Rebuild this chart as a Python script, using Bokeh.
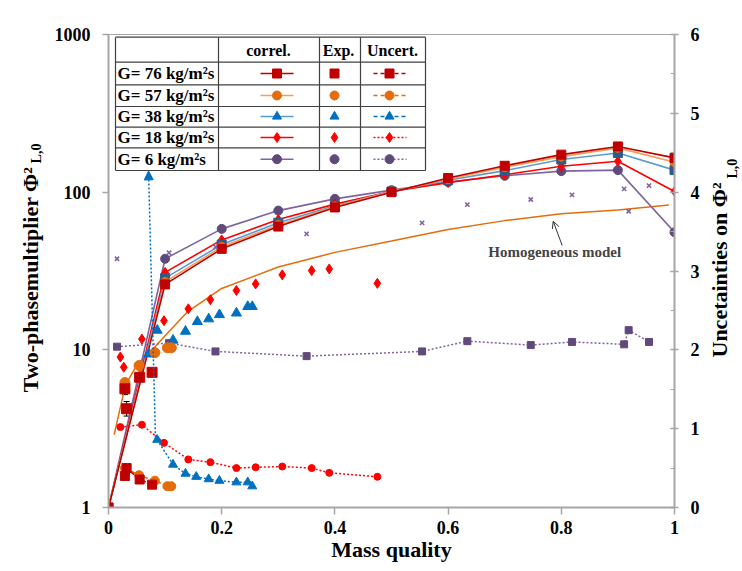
import math
from bokeh.plotting import figure
from bokeh.models import (Range1d, LinearAxis, LinearScale, FixedTicker, SingleIntervalTicker,
                          NumeralTickFormatter, CustomJSTickFormatter, Label, Arrow, NormalHead,
                          OpenHead, Whisker, ColumnDataSource, TeeHead)
from bokeh.core.properties import value
from bokeh.embed import file_html
from bokeh.resources import INLINE

FONT = "Liberation Serif"

# ---------------- data ----------------
x_corr = [0, 0.1, 0.2, 0.3, 0.4, 0.5, 0.6, 0.7, 0.8, 0.9, 1.0]
corr_g76 = [1, 26.0, 43.7, 60.5, 80, 100, 123, 147, 173, 195, 165]
corr_g57 = [1, 27.0, 45.0, 62.0, 81, 101, 121, 144, 168, 191, 155]
corr_g38 = [1, 28.5, 46.5, 64.0, 82, 101, 119, 137, 161, 177, 138]
corr_g18 = [1, 31.0, 49.8, 67.0, 84, 101, 115, 129, 146, 157, 101]
corr_g6 = [1, 37.8, 58.5, 76.4, 90.7, 103, 116, 127, 136, 138, 55.7]

x_homog = [0.01, 0.03, 0.05, 0.075, 0.1, 0.14, 0.2, 0.3, 0.4, 0.5, 0.6, 0.7, 0.8, 0.9, 0.99]
homog = [2.9, 6.0, 8.0, 9.8, 12.3, 17.5, 24.5, 33.5, 41.5, 49.0, 58.0, 66.0, 73.0, 77.0, 83.0]

x_exp76 = [0.029, 0.032, 0.055, 0.077]
exp76 = [5.66, 4.23, 6.7, 7.2]
unc76 = [0.40, 0.50, 0.355, 0.29]
err76_low = [5.2, 3.8]
err76_high = [5.8, 4.7]

x_exp57 = [0.029, 0.054, 0.082, 0.104, 0.111]
exp57 = [6.2, 7.95, 9.6, 10.3, 10.3]
unc57 = [0.50, 0.41, 0.34, 0.27, 0.27]

x_exp38 = [0.071, 0.086, 0.114, 0.136, 0.157, 0.177, 0.196, 0.226, 0.246, 0.254]
exp38 = [9.4, 13.3, 11.5, 13.1, 15.1, 15.7, 16.7, 17.1, 18.8, 18.8]
x_unc38 = [0.086, 0.114, 0.136, 0.155, 0.177, 0.196, 0.226, 0.246, 0.254]
unc38 = [0.86, 0.545, 0.43, 0.39, 0.36, 0.34, 0.32, 0.32, 0.27]

x_exp18 = [0.021, 0.027, 0.059, 0.098, 0.141, 0.18, 0.226, 0.26, 0.307, 0.359, 0.39, 0.475]
exp18 = [9.0, 7.76, 11.7, 15.3, 18.2, 20.8, 23.8, 26.2, 29.9, 31.8, 32.6, 26.4]
x_unc18 = [0.021, 0.059, 0.098, 0.141, 0.18, 0.226, 0.26, 0.307, 0.359, 0.39, 0.475]
unc18 = [1.02, 1.05, 0.82, 0.61, 0.575, 0.50, 0.51, 0.52, 0.50, 0.44, 0.39]

x_exp6 = [0.015, 0.107, 0.189, 0.35, 0.554, 0.634, 0.746, 0.819, 0.911, 0.919, 0.955]
exp6 = [37.8, 41.3, 45.0, 54.4, 63.9, 83.4, 89.8, 96.2, 105, 75.7, 110]
unc6 = [2.04, 2.085, 1.98, 1.92, 1.98, 2.11, 2.06, 2.10, 2.07, 2.25, 2.10]

x_ticks = [0, 0.2, 0.4, 0.6, 0.8, 1.0]
y_ticks = [1, 10, 100, 1000]

legend_labels = ["G= 76 kg/m\u00b2s", "G= 57 kg/m\u00b2s", "G= 38 kg/m\u00b2s",
                 "G= 18 kg/m\u00b2s", "G= 6 kg/m\u00b2s"]
legend_headers = ["correl.", "Exp.", "Uncert."]
left_title = "Two-phasemultiplier \u03a6\u00b2"
right_title = "Uncetainties on \u03a6\u00b2"
title_sub = "L,0"

# ---------------- styles ----------------
C76 = "#C00000"
C57 = "#E46C0A"
C57L = "#F59D56"
C38 = "#0070C0"
C38L = "#5B9BD5"
C38S = "#2E5B8A"
C18 = "#FF0000"
C6 = "#604A7B"
C6L = "#8064A2"
AXC = "#A6A6A6"

p = figure(frame_width=566, frame_height=473, x_range=Range1d(0, 1), y_range=Range1d(1, 1000),
           y_axis_type="log", output_backend="svg", toolbar_location=None,
           min_border_left=108, min_border_right=68, min_border_top=34, min_border_bottom=64)
p.extra_y_ranges = {"unc": Range1d(0, 6), "ly": Range1d(473, 0)}
p.extra_x_ranges = {"lx": Range1d(0, 566)}
p.extra_y_scales = {"unc": LinearScale(), "ly": LinearScale()}
p.extra_x_scales = {"lx": LinearScale()}

p.xgrid.visible = False
p.ygrid.visible = False
p.outline_line_color = AXC
p.outline_line_width = 1
p.background_fill_color = "white"
p.border_fill_color = "white"

def style_axis(ax, size="18px"):
    ax.axis_line_color = AXC
    ax.axis_line_width = 2
    ax.major_tick_line_color = AXC
    ax.major_tick_line_width = 1.5
    ax.minor_tick_line_color = AXC
    ax.major_label_text_font = FONT
    ax.major_label_text_font_style = "bold"
    ax.major_label_text_font_size = size
    ax.major_label_text_color = "black"
    ax.axis_label_text_font = FONT
    ax.axis_label_text_font_style = "bold"
    ax.axis_label_text_font_size = "22px"
    ax.axis_label_text_color = "black"

style_axis(p.xaxis[0])
p.xaxis.ticker = FixedTicker(ticks=x_ticks, minor_ticks=[])
p.xaxis.formatter = NumeralTickFormatter(format="0.[0]")
p.xaxis.major_tick_in = 0
p.xaxis.major_tick_out = 7
p.xaxis.major_label_standoff = 6
p.xaxis.axis_label = "Mass quality"
p.xaxis.axis_label_standoff = 0

style_axis(p.yaxis[0])
p.yaxis.ticker = FixedTicker(ticks=y_ticks, minor_ticks=[])
p.yaxis.formatter = NumeralTickFormatter(format="0")
p.yaxis.major_tick_in = 0
p.yaxis.major_tick_out = 6
p.yaxis.major_label_standoff = 12

rax = LinearAxis(y_range_name="unc", ticker=SingleIntervalTicker(interval=1, num_minor_ticks=2),
                 formatter=NumeralTickFormatter(format="0"))
style_axis(rax)
rax.major_tick_in = 4
rax.major_tick_out = 4
rax.minor_tick_in = 4
rax.minor_tick_out = 0
rax.major_label_standoff = 12
p.add_layout(rax, "right")

# axis titles drawn as single-tick label axes (allows the L,0 subscript)
def title_axis(pos, text, size, orient, standoff):
    ax = LinearAxis(y_range_name="ly", ticker=FixedTicker(ticks=[pos], minor_ticks=[]),
                    formatter=CustomJSTickFormatter(code="return %r;" % text),
                    major_label_orientation=orient)
    style_axis(ax, size)
    ax.axis_line_color = None
    ax.major_tick_line_color = None
    ax.minor_tick_line_color = None
    ax.major_tick_in = 0
    ax.major_tick_out = 0
    ax.minor_tick_in = 0
    ax.minor_tick_out = 0
    ax.major_label_standoff = standoff
    return ax

p.add_layout(title_axis(119, title_sub, "14px", "vertical", 8), "left")
p.add_layout(title_axis(245, left_title, "22px", "vertical", -17), "left")
p.add_layout(title_axis(323, right_title, "22px", math.pi / 2, 17), "right")
p.add_layout(title_axis(144, title_sub, "14px", math.pi / 2, -15), "right")

# ---------------- homogeneous model ----------------
p.line(x_homog, homog, line_color=C57, line_width=1.5)

# ---------------- correlations ----------------
corr = [(corr_g6, C6L, C6, "circle"), (corr_g18, C18, C18, "diamond"),
        (corr_g38, C38L, C38S, "square"), (corr_g57, C57L, C57, "circle"),
        (corr_g76, C76, C76, "square")]
for ys, lc, mc, mk in corr:
    p.line(x_corr, ys, line_color=lc, line_width=1.6)
    p.scatter(x_corr, ys, marker=mk, size=9 if mk != "diamond" else 10,
              fill_color=mc, line_color=mc)

# ---------------- uncertainties (right axis) ----------------
p.line(x_exp6, unc6, y_range_name="unc", line_color=C6L, line_width=1.5, line_dash="2 2")
p.scatter(x_exp6, unc6, y_range_name="unc", marker="square", size=7, fill_color=C6, line_color=C6)

p.line(x_unc18, unc18, y_range_name="unc", line_color=C18, line_width=1.5, line_dash="2 2")
p.scatter(x_unc18, unc18, y_range_name="unc", marker="circle", size=7, fill_color=C18, line_color=C18)

p.line(x_unc38, unc38, y_range_name="unc", line_color=C38, line_width=1.5, line_dash="2 2")
p.scatter(x_unc38, unc38, y_range_name="unc", marker="triangle", size=9, fill_color=C38, line_color=C38)

p.line(x_exp57, unc57, y_range_name="unc", line_color=C57, line_width=1.5, line_dash="4 3")
p.scatter(x_exp57, unc57, y_range_name="unc", marker="circle", size=9, fill_color=C57, line_color=C57)

p.line(sorted(x_exp76), [u for _, u in sorted(zip(x_exp76, unc76))], y_range_name="unc",
       line_color=C76, line_width=1.5, line_dash="4 3")
p.scatter(x_exp76, unc76, y_range_name="unc", marker="square", size=9, fill_color=C76, line_color=C76)

# ---------------- experiments (left axis) ----------------
p.scatter(x_exp6, exp6, marker="x", size=6, line_color=C6L, line_width=1.6)
p.scatter(x_exp18, exp18, marker="diamond", size=10, fill_color=C18, line_color=C18)
p.scatter(x_exp38, exp38, marker="triangle", size=10, fill_color=C38, line_color=C38)
p.scatter(x_exp57, exp57, marker="circle", size=10, fill_color=C57, line_color=C57)
p.scatter(x_exp76, exp76, marker="square", size=10, fill_color=C76, line_color=C76)

err_src = ColumnDataSource(dict(base=x_exp76[:2], lower=err76_low, upper=err76_high))
p.add_layout(Whisker(source=err_src, base="base", lower="lower", upper="upper", dimension="height",
                     line_color="black", line_width=1,
                     upper_head=TeeHead(size=6, line_color="black"),
                     lower_head=TeeHead(size=6, line_color="black")))

# blue dotted arrow towards the legend
p.add_layout(Arrow(x_start=0.083, y_start=0.89, x_end=0.0707, y_end=4.27, y_range_name="unc",
                   line_color=C38, line_width=1.5, line_dash="2 2",
                   end=NormalHead(size=9, fill_color=C38, line_color=C38)))

# homogeneous model annotation
p.add_layout(Arrow(x_start=0.8016, y_start=45.9, x_end=0.7857, y_end=65.4,
                   line_color="#333333", line_width=1,
                   end=OpenHead(size=7, line_color="#333333", line_width=1)))
p.add_layout(Label(x=0.671, y=41.6, text="Homogeneous model", text_baseline="middle",
                   text_font=FONT, text_font_style="bold", text_font_size="15px"))

# ---------------- legend table (frame pixel coords) ----------------
row_y = [39, 61, 82, 103, 124.7]
h_lines = [2.7, 27.7, 50.3, 72, 92.7, 113.3, 136]
v_lines = [7, 110, 211, 252, 317]
p.quad(left=[7], right=[317], top=[2.7], bottom=[136], x_range_name="lx", y_range_name="ly",
       fill_color="white", line_color=None)
p.segment(x0=[7] * len(h_lines), x1=[317] * len(h_lines), y0=h_lines, y1=h_lines,
          x_range_name="lx", y_range_name="ly", line_color="#404040", line_width=1.2)
p.segment(x0=v_lines, x1=v_lines, y0=[2.7] * len(v_lines), y1=[136] * len(v_lines),
          x_range_name="lx", y_range_name="ly", line_color="#404040", line_width=1.2)
p.text(x=[160, 230, 284], y=[16] * 3, text=legend_headers, x_range_name="lx", y_range_name="ly",
       text_font=value(FONT), text_font_style="bold", text_font_size="16px",
       text_align="center", text_baseline="middle")
p.text(x=[9] * 5, y=row_y, text=legend_labels, x_range_name="lx", y_range_name="ly",
       text_font=value(FONT), text_font_style="bold", text_font_size="17px",
       text_align="left", text_baseline="middle")

leg_styles = [(C76, C76, "square", "4 3", C76), (C57L, C57, "circle", "4 3", C57),
              (C38L, C38, "triangle", "4 3", C38), (C18, C18, "diamond", "2 2", C18),
              (C6L, C6, "circle", "2 2", C6L)]
for yy, (lc, mc, mk, dash, uc) in zip(row_y, leg_styles):
    p.line([152, 185], [yy, yy], x_range_name="lx", y_range_name="ly", line_color=lc, line_width=1.6)
    p.scatter([168.5], [yy], x_range_name="lx", y_range_name="ly", marker=mk,
              size=9 if mk != "diamond" else 10, fill_color=mc, line_color=mc)
    p.scatter([226], [yy], x_range_name="lx", y_range_name="ly", marker=mk,
              size=9 if mk != "diamond" else 10, fill_color=mc, line_color=mc)
    p.line([265, 298], [yy, yy], x_range_name="lx", y_range_name="ly", line_color=uc,
           line_width=1.5, line_dash=dash)
    p.scatter([281], [yy], x_range_name="lx", y_range_name="ly", marker=mk,
              size=9 if mk != "diamond" else 10, fill_color=mc, line_color=mc)

open("out.html", "w").write(file_html(p, INLINE))
